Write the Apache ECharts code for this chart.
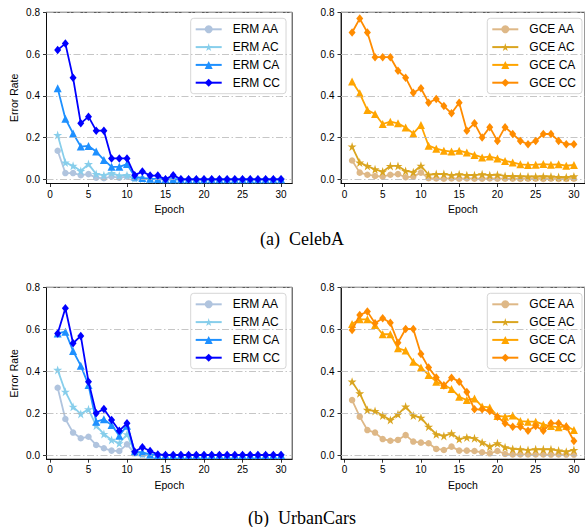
<!DOCTYPE html>
<html>
<head>
<meta charset="utf-8">
<script src="https://cdn.jsdelivr.net/npm/echarts@6/dist/echarts.min.js"></script>
<style>
html,body{margin:0;padding:0;background:#fff;}
#chart{width:585px;height:527px;}
</style>
</head>
<body>
<div id="chart"></div>
<script>
const epochs = [1,2,3,4,5,6,7,8,9,10,11,12,13,14,15,16,17,18,19,20,21,22,23,24,25,26,27,28,29,30];
const xTicks = [0,5,10,15,20,25,30];
const yTicks = [0,0.2,0.4,0.6,0.8];

const ermNames = ['ERM AA','ERM AC','ERM CA','ERM CC'];
const gceNames = ['GCE AA','GCE AC','GCE CA','GCE CC'];
const captions = ['(a)\u00a0\u00a0CelebA','(b)\u00a0\u00a0UrbanCars'];

const celebaErmAA = [0.137,0.030,0.030,0.020,0.025,0.008,0.005,0.013,0.008,0.013,0.003,0.002,0.001,0.001,0,0,0,0,0,0,0,0,0,0,0,0,0,0,0,0];
const celebaErmAC = [0.212,0.080,0.065,0.040,0.073,0.025,0.020,0.030,0.018,0.020,0.005,0.002,0.001,0,0,0,0,0,0,0,0,0,0,0,0,0,0,0,0,0];
const celebaErmCA = [0.436,0.290,0.220,0.157,0.160,0.133,0.093,0.060,0.060,0.073,0.013,0.006,0.003,0.002,0,0,0,0,0,0,0,0,0,0,0,0,0,0,0,0];
const celebaErmCC = [0.620,0.650,0.486,0.268,0.300,0.233,0.233,0.100,0.100,0.100,0.020,0.037,0.018,0.018,0.000,0.020,0,0,0,0,0,0,0,0,0,0,0,0,0,0];

const celebaGceAA = [0.090,0.032,0.022,0.016,0.013,0.022,0.025,0.010,0.013,0.032,0.005,0.004,0.003,0.004,0.003,0.004,0.003,0.003,0.004,0.003,0.003,0.003,0.002,0.003,0.003,0.002,0.003,0.002,0.002,0.003];
const celebaGceAC = [0.157,0.080,0.064,0.048,0.037,0.064,0.064,0.040,0.034,0.065,0.022,0.025,0.025,0.020,0.024,0.020,0.020,0.024,0.020,0.022,0.016,0.016,0.014,0.013,0.013,0.014,0.013,0.011,0.010,0.014];
const celebaGceCA = [0.468,0.412,0.332,0.313,0.265,0.276,0.268,0.248,0.220,0.260,0.161,0.147,0.137,0.133,0.137,0.128,0.117,0.105,0.109,0.100,0.088,0.081,0.072,0.069,0.070,0.073,0.070,0.072,0.065,0.069];
const celebaGceCC = [0.703,0.770,0.703,0.585,0.585,0.585,0.520,0.487,0.415,0.436,0.367,0.385,0.351,0.316,0.367,0.233,0.268,0.200,0.250,0.184,0.250,0.217,0.184,0.168,0.184,0.217,0.217,0.184,0.168,0.168];

const urbanErmAA = [0.321,0.172,0.107,0.080,0.087,0.048,0.032,0.021,0.019,0.051,0.008,0.003,0,0,0,0,0,0,0,0,0,0,0,0,0,0,0,0,0,0];
const urbanErmAC = [0.406,0.302,0.230,0.196,0.218,0.140,0.100,0.072,0.056,0.099,0.013,0.005,0.001,0,0,0,0,0,0,0,0,0,0,0,0,0,0,0,0,0];
const urbanErmCA = [0.580,0.588,0.496,0.426,0.334,0.159,0.170,0.143,0.092,0.140,0.016,0.013,0.003,0,0,0,0,0,0,0,0,0,0,0,0,0,0,0,0,0];
const urbanErmCC = [0.580,0.700,0.533,0.568,0.350,0.199,0.220,0.167,0.116,0.151,0.016,0.037,0.019,0.003,0,0,0,0,0,0,0,0,0,0,0,0,0,0,0,0];

const urbanGceAA = [0.262,0.183,0.119,0.107,0.076,0.068,0.072,0.095,0.064,0.059,0.056,0.029,0.024,0.040,0.021,0.021,0.019,0.013,0.008,0.019,0.005,0.003,0.003,0.003,0.003,0.003,0.002,0.003,0.002,0.002];
const urbanGceAC = [0.350,0.294,0.215,0.210,0.188,0.167,0.194,0.231,0.188,0.178,0.135,0.099,0.091,0.103,0.076,0.084,0.080,0.060,0.040,0.056,0.037,0.029,0.027,0.024,0.027,0.027,0.027,0.021,0.016,0.024];
const urbanGceCA = [0.625,0.647,0.647,0.620,0.576,0.576,0.509,0.498,0.445,0.418,0.382,0.350,0.334,0.315,0.278,0.262,0.270,0.231,0.227,0.186,0.183,0.188,0.162,0.159,0.159,0.146,0.138,0.132,0.138,0.119];
const urbanGceCC = [0.596,0.668,0.684,0.628,0.652,0.631,0.536,0.601,0.601,0.482,0.417,0.370,0.331,0.369,0.350,0.300,0.218,0.218,0.210,0.183,0.151,0.135,0.135,0.116,0.138,0.116,0.151,0.151,0.135,0.067];

const ermColors = ['#b0c4de','#87ceeb','#1e90ff','#0000ff'];
const gceColors = ['#deb887','#daa520','#ffa500','#ff8c00'];

const starPath = 'path://M50 0 L61.23 34.55 L97.55 34.55 L68.17 55.9 L79.39 90.45 L50 69.1 L20.61 90.45 L31.83 55.9 L2.45 34.55 L38.77 34.55 Z';
const symbols = ['circle', starPath, 'triangle', 'diamond'];
const symbolSizes = [6.5, 9, 8, [7, 8.5]];

const SANS = '"Liberation Sans", Arial, sans-serif';

const panels = [
  {names: ermNames, colors: ermColors, data: [celebaErmAA, celebaErmAC, celebaErmCA, celebaErmCC], grid: {left: 46.5, top: 12.3, width: 245.7, height: 171.2}, legend: {left: 190.7, top: 18.3}, ylabel: true},
  {names: gceNames, colors: gceColors, data: [celebaGceAA, celebaGceAC, celebaGceCA, celebaGceCC], grid: {left: 341, top: 12.3, width: 247.8, height: 171.2}, legend: {left: 487.3, top: 18.3}, ylabel: false},
  {names: ermNames, colors: ermColors, data: [urbanErmAA, urbanErmAC, urbanErmCA, urbanErmCC], grid: {left: 46.5, top: 287.3, width: 245.7, height: 171.9}, legend: {left: 190.7, top: 293.3}, ylabel: true},
  {names: gceNames, colors: gceColors, data: [urbanGceAA, urbanGceAC, urbanGceCA, urbanGceCC], grid: {left: 341, top: 287.3, width: 247.8, height: 171.9}, legend: {left: 487.3, top: 293.3}, ylabel: false}
];

const grids = [], xAxes = [], yAxes = [], series = [], legends = [];
panels.forEach((p, i) => {
  grids.push(Object.assign({show: true, borderColor: '#000', borderWidth: 0.8, backgroundColor: 'transparent', containLabel: false}, p.grid));
  xAxes.push({
    type: 'value', gridIndex: i, min: -0.45, max: 31.45,
    name: 'Epoch', nameLocation: 'middle', nameGap: 20,
    nameTextStyle: {fontFamily: SANS, fontSize: 10.5, color: '#000'},
    axisLine: {show: true, onZero: false, lineStyle: {color: '#000', width: 0.8}},
    axisTick: {show: true, inside: false, length: 3.5, lineStyle: {color: '#000', width: 0.8}, customValues: xTicks},
    axisLabel: {fontFamily: SANS, fontSize: 10, color: '#000', margin: 5.5, customValues: xTicks},
    splitLine: {show: false}
  });
  yAxes.push({
    type: 'value', gridIndex: i, min: -0.02, max: 0.8,
    name: p.ylabel ? 'Error Rate' : '', nameLocation: 'middle', nameGap: 27,
    nameTextStyle: {fontFamily: SANS, fontSize: 10.5, color: '#000'},
    axisLine: {show: true, onZero: false, lineStyle: {color: '#000', width: 0.8}},
    axisTick: {show: true, inside: false, length: 3.5, lineStyle: {color: '#000', width: 0.8}, customValues: yTicks},
    axisLabel: {fontFamily: SANS, fontSize: 10, color: '#000', margin: 6.5, customValues: yTicks, formatter: v => Number(v).toFixed(1)},
    splitLine: {show: false}
  });
  series.push({
    type: 'line', name: 'gridlines' + i, xAxisIndex: i, yAxisIndex: i, data: [], z: 1, silent: true,
    markLine: {
      silent: true, symbol: ['none', 'none'], label: {show: false}, animation: false,
      lineStyle: {color: '#b8b8b8', width: 0.8, type: [7, 2.5, 1.5, 2.5]},
      data: yTicks.map(v => ({yAxis: v}))
    }
  });
  p.names.forEach((nm, k) => {
    series.push({
      type: 'line', name: nm, xAxisIndex: i, yAxisIndex: i, z: 2 + k,
      data: epochs.map((e, j) => [e, p.data[k][j]]),
      symbol: symbols[k], symbolSize: symbolSizes[k], showAllSymbol: true,
      lineStyle: {color: p.colors[k], width: 1.8},
      itemStyle: {color: p.colors[k], borderWidth: 0},
      emphasis: {disabled: true}
    });
  });
  legends.push({
    data: p.names, orient: 'vertical', left: p.legend.left, top: p.legend.top,
    itemWidth: 26, itemHeight: 10, itemGap: 5.8, padding: [5, 6, 5, 4],
    borderColor: '#cccccc', borderWidth: 0.8, borderRadius: 3, backgroundColor: 'rgba(255,255,255,0.85)',
    textStyle: {fontFamily: SANS, fontSize: 12, color: '#000', padding: [0, 0, 0, 6]},
    selectedMode: false
  });
});

const chart = echarts.init(document.getElementById('chart'), null, {renderer: 'svg'});
chart.setOption({
  animation: false,
  backgroundColor: '#fff',
  grid: grids, xAxis: xAxes, yAxis: yAxes, series: series, legend: legends,
  graphic: [
    {type: 'text', x: 302, y: 239, style: {text: captions[0], font: '18px "Liberation Serif", serif', fill: '#000', textAlign: 'center', textVerticalAlign: 'middle', align: 'center', verticalAlign: 'middle'}},
    {type: 'text', x: 302, y: 518, style: {text: captions[1], font: '18px "Liberation Serif", serif', fill: '#000', textAlign: 'center', textVerticalAlign: 'middle', align: 'center', verticalAlign: 'middle'}}
  ]
});
</script>
</body>
</html>
